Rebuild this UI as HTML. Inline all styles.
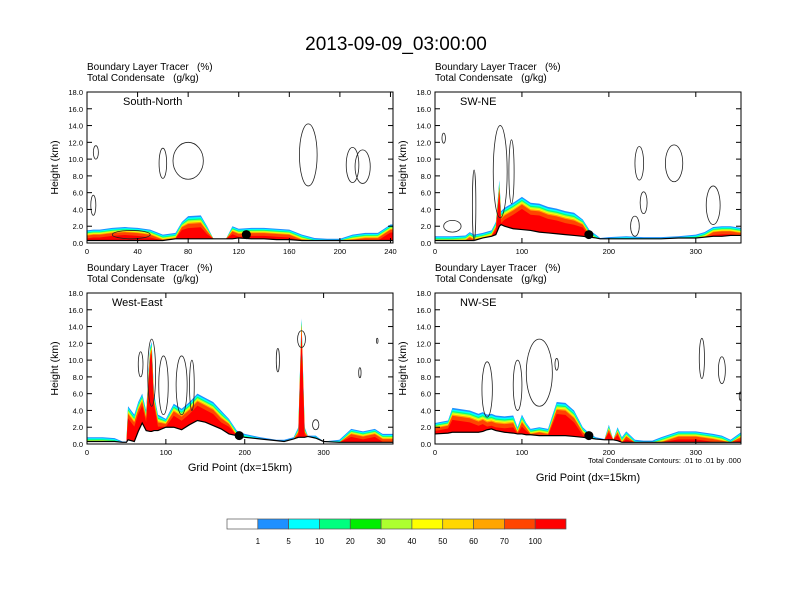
<!DOCTYPE html>
<html><head><meta charset="utf-8"><style>
body{margin:0;background:#fff;}
svg{display:block;font-family:"Liberation Sans",sans-serif;}
.pre{white-space:pre;}
</style></head><body>
<svg id="fig" width="792" height="612" viewBox="0 0 792 612">
<text x="396" y="50" text-anchor="middle" font-size="19">2013-09-09_03:00:00</text>
<g id="panels"></g>
<g id="cbar"></g>
</svg>
<script>
// ---- data ----
const levels = ["1","5","10","20","30","40","50","60","70","100"];
const levelColors = ["#ffffff","#1e90ff","#00ffff","#00ff7f","#00ee00","#adff2f","#ffff00","#ffd700","#ffa500","#ff4500","#ff0000"];
const yTicks = [0,2,4,6,8,10,12,14,16,18];

const snX = [0,5,10,20,30,40,50,60,70,75,80,90,95,100,110,115,120,130,140,150,160,170,180,190,200,210,220,230,240,242];
const snTop = [1.5,1.6,1.6,1.8,1.9,1.8,1.6,1.0,1.2,2.5,3.2,3.3,2.0,0.5,0.5,2.0,1.7,1.8,1.8,1.7,1.6,1.0,0.6,0.5,0.5,1.0,1.2,1.2,2.2,2.2];
const snTer = [0.3,0.3,0.3,0.3,0.3,0.3,0.3,0.3,0.5,0.5,0.5,0.5,0.5,0.5,0.5,0.5,0.6,0.5,0.5,0.4,0.4,0.3,0.3,0.3,0.3,0.3,0.3,0.3,0.3,0.3];

const swX = [0,20,35,40,45,55,65,70,74,76,80,90,100,110,120,130,140,150,160,170,178,185,190,200,220,240,260,280,300,310,320,330,340,352];
const swTop = [0.8,0.8,0.9,1.3,1.0,1.2,1.5,2.5,7.5,3.8,4.2,4.8,5.5,4.8,4.7,4.3,4.1,3.8,3.6,2.8,1.5,1.0,0.6,0.7,0.8,0.7,0.7,0.8,1.0,1.3,1.9,2.0,2.0,1.8];
const swTer = [0.3,0.3,0.3,0.3,0.3,0.6,0.8,1.0,2.0,2.2,2.0,1.7,1.6,1.5,1.3,1.2,1.1,1.0,0.9,0.8,0.7,0.6,0.5,0.5,0.5,0.5,0.5,0.6,0.6,0.7,0.8,0.8,0.9,0.9];

const weX = [0,20,35,45,50,52,60,65,70,75,80,82,85,90,100,110,120,130,140,150,160,170,180,190,200,220,240,250,262,268,272,276,280,290,300,320,335,350,365,375,388];
const weTop = [0.8,0.8,0.7,0.3,0.3,4.5,3.5,5.0,6.0,4.0,11.5,12.2,6.0,3.5,3.0,4.8,4.2,5.0,6.0,5.5,5.0,4.0,3.0,1.6,1.2,0.8,0.5,0.5,0.8,2.0,15.0,2.0,1.0,1.0,0.3,0.5,1.8,1.5,1.8,1.2,1.2];
const weTer = [0.3,0.3,0.3,0.2,0.2,0.5,0.3,1.5,2.5,1.6,1.5,1.5,1.6,1.6,2.0,2.0,1.7,2.3,2.8,2.6,2.2,1.8,1.2,1.0,0.8,0.6,0.4,0.3,0.6,0.8,0.8,0.8,0.9,0.7,0.3,0.2,0.2,0.2,0.2,0.2,0.2];

const nwX = [0,15,20,40,50,55,60,65,70,80,90,95,100,105,110,120,130,140,150,160,170,178,185,195,200,205,210,215,220,230,240,250,260,280,300,320,330,340,352];
const nwTop = [2.5,2.8,4.3,4.0,3.6,3.8,3.5,3.6,3.4,3.3,3.4,2.0,3.5,2.5,1.8,2.0,1.8,5.0,4.9,4.0,2.0,1.2,0.8,0.6,2.3,0.5,2.0,0.8,1.5,0.5,0.4,0.4,0.8,1.5,1.5,1.2,1.0,0.5,1.4];
const nwTer = [1.2,1.3,1.4,1.4,1.4,1.5,1.7,1.8,1.6,1.4,1.3,1.2,1.2,1.1,1.1,1.0,1.0,1.0,1.0,0.9,0.8,0.7,0.6,0.5,0.5,0.5,0.4,0.2,0.2,0.2,0.2,0.2,0.2,0.2,0.2,0.2,0.2,0.2,0.2];

// contours: [x, y(km), rx(grid pts), ry(km)]
const snCont = [[7,10.8,2,0.8],[5,4.5,2,1.2],[80,9.8,12,2.2],[60,9.5,3,1.8],[175,10.5,7,3.7],[210,9.3,5,2.1],[218,9.1,6,2.0],[35,1.0,15,0.5]];
const swCont = [[10,12.5,2,0.6],[45,4.5,2,4.2],[75,8.5,8,5.5],[88,8.5,3,3.8],[20,2.0,10,0.7],[235,9.5,5,2.0],[275,9.5,10,2.2],[240,4.8,4,1.3],[230,2.0,5,1.2],[320,4.5,8,2.3]];
const weCont = [[68,9.5,3,1.5],[82,8.5,5,4],[97,7,6,3.5],[120,7,7,3.5],[133,7,3,3],[242,10,2,1.4],[272,12.5,5,1],[346,8.5,1.5,0.6],[368,12.3,1,0.3],[290,2.3,4,0.6]];
const nwCont = [[60,6.5,6,3.3],[95,7,5,3],[120,8.5,15,4],[140,9.5,2,0.7],[307,10.2,3,2.4],[330,8.8,4,1.6],[351,5.7,1,0.5]];

const panels = [
 {name:"south-north", label:"South-North", x0:87, y0:92, xmax:242, xt:[0,40,80,120,160,200,240], X:snX, T:snTop, G:snTer, C:snCont, dot:[126,1.0], xlabel:false},
 {name:"sw-ne", label:"SW-NE", x0:435, y0:92, xmax:352, xt:[0,100,200,300], X:swX, T:swTop, G:swTer, C:swCont, dot:[177,1.0], xlabel:false},
 {name:"west-east", label:"West-East", x0:87, y0:293, xmax:388, xt:[0,100,200,300], X:weX, T:weTop, G:weTer, C:weCont, dot:[193,1.0], xlabel:true},
 {name:"nw-se", label:"NW-SE", x0:435, y0:293, xmax:352, xt:[0,100,200,300], X:nwX, T:nwTop, G:nwTer, C:nwCont, dot:[177,1.0], xlabel:true, foot:true}
];
// ---- drawing ----
const NS="http://www.w3.org/2000/svg";
function mk(tag,attrs,parent,txt){const e=document.createElementNS(NS,tag);for(const k in attrs)e.setAttribute(k,attrs[k]);if(txt!==undefined)e.textContent=txt;parent.appendChild(e);return e;}
const W=306,H=151;
const bands=[[0,"#1e90ff"],[0.12,"#00ffff"],[0.24,"#00ff7f"],[0.34,"#adff2f"],[0.44,"#ffff00"],[0.52,"#ffa500"],[0.62,"#ff4500"],[0.95,"#ff0000"]];
const root=document.getElementById('panels');
panels.forEach(p=>{
  const g=mk('g',{},root);
  
  
  const sx=v=>p.x0+v/p.xmax*W, sy=v=>p.y0+H-v/18*H;
  const t1=mk('text',{x:p.x0,y:p.y0-22,'font-size':10,'class':'pre'},g,'Boundary Layer Tracer   (%)');
  
  const t2=mk('text',{x:p.x0,y:p.y0-11,'font-size':10,'class':'pre'},g,'Total Condensate   (g/kg)');
  
  const cp='clip-'+p.name;
  const cl=mk('clipPath',{id:cp},g);mk('rect',{x:p.x0,y:p.y0,width:W,height:H},cl);
  const f=mk('g',{'clip-path':'url(#'+cp+')'},g);
  
  bands.forEach(([off,col])=>{
    let top=[],bot=[];
    p.X.forEach((x,i)=>{const h=Math.max(p.G[i],p.T[i]-off*(p.T[i]>3?1.5:1));top.push(sx(x)+','+sy(h));bot.push(sx(x)+','+sy(p.G[i]));});
    const poly=mk('polygon',{points:top.concat(bot.reverse()).join(' '),fill:col},f);
    
  });
  const ter=mk('polyline',{points:p.X.map((x,i)=>sx(x)+','+sy(p.G[i])).join(' '),fill:'none',stroke:'#000','stroke-width':1.2},f);
  
  p.C.forEach(c=>{
    const e=mk('ellipse',{cx:sx(c[0]),cy:sy(c[1]),rx:c[2]/p.xmax*W,ry:c[3]/18*H,fill:'none',stroke:'#222','stroke-width':0.8},f);
    
  });
  const d=mk('circle',{cx:sx(p.dot[0]),cy:sy(p.dot[1]),r:4.5,fill:'#000'},g);
  
  const fr=mk('rect',{x:p.x0,y:p.y0,width:W,height:H,fill:'none',stroke:'#000','stroke-width':1},g);
  
  const lb=mk('text',{x:p.x0+(p.name==='south-north'?36:25),y:p.y0+13,'font-size':11},g,p.label);
  
  yTicks.forEach(v=>{
    const y=sy(v);
    mk('line',{x1:p.x0,x2:p.x0+5,y1:y,y2:y,stroke:'#000'},g);
    mk('line',{x1:p.x0+W,x2:p.x0+W-5,y1:y,y2:y,stroke:'#000'},g);
    const t=mk('text',{x:p.x0-4,y:y+3,'font-size':7.5,'text-anchor':'end'},g,v.toFixed(1));
    
  });
  p.xt.forEach(v=>{
    const x=sx(v);
    mk('line',{x1:x,x2:x,y1:p.y0+H,y2:p.y0+H-5,stroke:'#000'},g);
    mk('line',{x1:x,x2:x,y1:p.y0,y2:p.y0+5,stroke:'#000'},g);
    const t=mk('text',{x:x,y:p.y0+H+11,'font-size':7.5,'text-anchor':'middle'},g,String(v));
    
  });
  const yl=mk('text',{x:0,y:0,'font-size':10.5,'text-anchor':'middle',transform:`translate(${p.x0-29},${p.y0+H/2}) rotate(-90)`},g,'Height (km)');
  
  if(p.xlabel){
    const xl=mk('text',{x:p.x0+W/2,y:p.foot?p.y0+H+37:p.y0+H+27,'font-size':11,'text-anchor':'middle'},g,'Grid Point (dx=15km)');
    
  }
  if(p.foot){
    const ft=mk('text',{x:p.x0+W,y:p.y0+H+19,'font-size':7.5,'text-anchor':'end'},g,'Total Condensate Contours: .01 to .01 by .000');
    
  }
});
const cb=document.getElementById('cbar');
const bx=227,bw=339/11;
levelColors.forEach((c,i)=>{
  const r=mk('rect',{x:bx+i*bw,y:519,width:bw,height:10,fill:c,stroke:'#555','stroke-width':0.7},cb);
  
});
levels.forEach((l,i)=>{
  const t=mk('text',{x:bx+(i+1)*bw,y:544,'font-size':8,'text-anchor':'middle'},cb,l);
  
});
</script>
</body></html>
